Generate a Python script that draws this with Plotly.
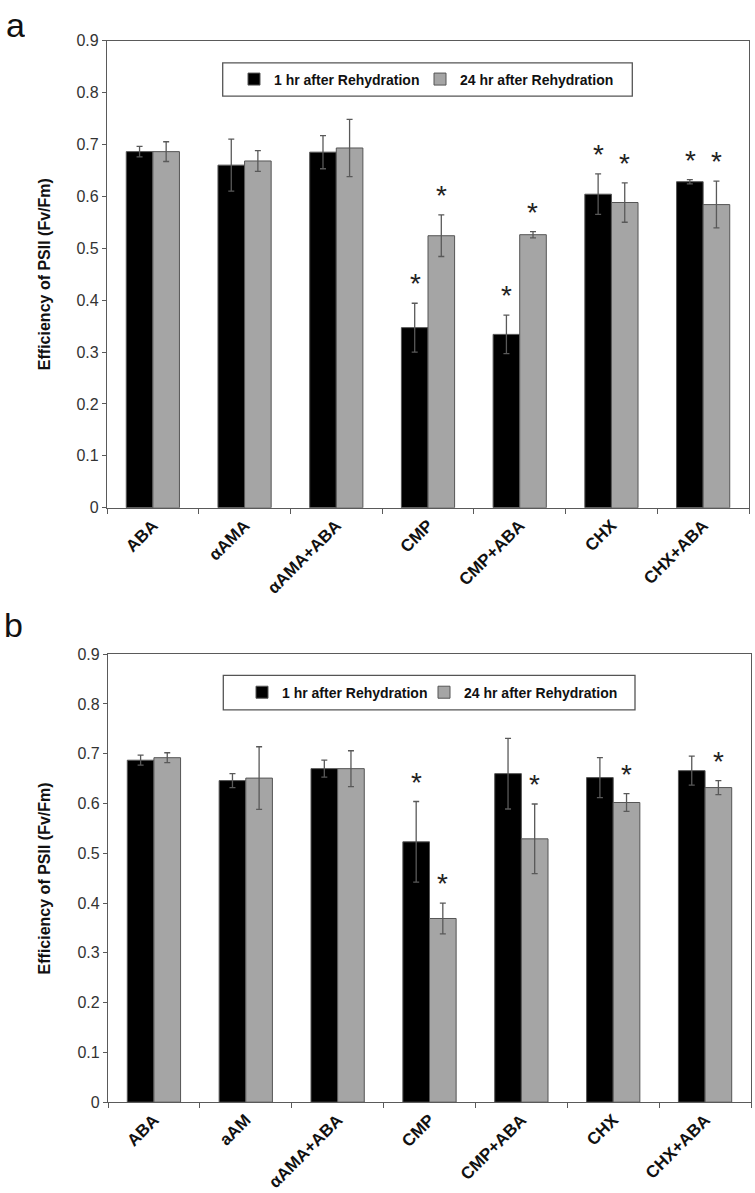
import plotly.graph_objects as go

# -----------------------------
# Data
# -----------------------------
CATS_A = ["ABA", "αAMA", "αAMA+ABA", "CMP", "CMP+ABA", "CHX", "CHX+ABA"]
A_1HR = [0.686, 0.660, 0.685, 0.347, 0.334, 0.604, 0.628]
A_1HR_ERR = [0.010, 0.050, 0.032, 0.047, 0.037, 0.039, 0.004]
A_24HR = [0.686, 0.668, 0.693, 0.524, 0.526, 0.588, 0.584]
A_24HR_ERR = [0.019, 0.020, 0.055, 0.040, 0.006, 0.038, 0.045]
A_SIG_1HR = [False, False, False, True, True, True, True]
A_SIG_24HR = [False, False, False, True, True, True, True]

CATS_B = ["ABA", "aAM", "αAMA+ABA", "CMP", "CMP+ABA", "CHX", "CHX+ABA"]
B_1HR = [0.687, 0.646, 0.670, 0.523, 0.660, 0.652, 0.666]
B_1HR_ERR = [0.010, 0.014, 0.017, 0.081, 0.071, 0.040, 0.029]
B_24HR = [0.692, 0.651, 0.670, 0.369, 0.529, 0.602, 0.632]
B_24HR_ERR = [0.010, 0.063, 0.036, 0.031, 0.070, 0.018, 0.014]
B_SIG_1HR = [False, False, False, True, False, False, False]
B_SIG_24HR = [False, False, False, True, True, True, True]

SERIES_NAMES = ["1 hr after Rehydration", "24 hr after Rehydration"]
Y_TITLE = "Efficiency of PSII (Fv/Fm)"

# -----------------------------
# Style
# -----------------------------
W, H = 755, 1193
FONT = "Arial, 'Liberation Sans', sans-serif"
BLACK_BAR = "#000000"
GREY_BAR = "#a5a5a5"
EDGE = "#555555"
AXIS = "#5a5a5a"
ERR = "#595959"


def px(x):
    return x / W


def py(y):
    return 1 - y / H


fig = go.Figure()

# one legend per series and panel, so each entry can sit where the original has it
panels = [
    dict(cats=CATS_A, v1=A_1HR, e1=A_1HR_ERR, v2=A_24HR, e2=A_24HR_ERR,
         s1=A_SIG_1HR, s2=A_SIG_24HR, xa="x", ya="y",
         legends=("legend", "legend2")),
    dict(cats=CATS_B, v1=B_1HR, e1=B_1HR_ERR, v2=B_24HR, e2=B_24HR_ERR,
         s1=B_SIG_1HR, s2=B_SIG_24HR, xa="x2", ya="y2",
         legends=("legend3", "legend4")),
]

annotations = []
for p in panels:
    for name, vals, errs, color, leg in [
        (SERIES_NAMES[0], p["v1"], p["e1"], BLACK_BAR, p["legends"][0]),
        (SERIES_NAMES[1], p["v2"], p["e2"], GREY_BAR, p["legends"][1]),
    ]:
        fig.add_trace(go.Bar(
            x=p["cats"], y=vals, name=name,
            marker=dict(color=color, line=dict(color=EDGE, width=1)),
            error_y=dict(type="data", array=errs, visible=True,
                         color=ERR, thickness=1.3, width=3),
            xaxis=p["xa"], yaxis=p["ya"], legend=leg,
        ))

    # significance stars
    for i, c in enumerate(p["cats"]):
        for sig, vals, errs, shift in [
            (p["s1"], p["v1"], p["e1"], -13),
            (p["s2"], p["v2"], p["e2"], 13),
        ]:
            if sig[i]:
                annotations.append(dict(
                    x=c, y=vals[i] + errs[i], xref=p["xa"], yref=p["ya"],
                    text="*", showarrow=False, xshift=shift, yshift=2,
                    yanchor="bottom",
                    font=dict(family=FONT, size=28, color="#222222"),
                ))

# panel letters
annotations.append(dict(x=px(4), y=py(1), xref="paper", yref="paper",
                        text="a", showarrow=False, xanchor="left", yanchor="top",
                        height=28, valign="middle",
                        font=dict(family=FONT, size=34, color="#111111")))
annotations.append(dict(x=px(2), y=py(605), xref="paper", yref="paper",
                        text="b", showarrow=False, xanchor="left", yanchor="top",
                        font=dict(family=FONT, size=34, color="#111111")))

# y-axis titles
for yc in [270, 883]:
    annotations.append(dict(x=px(44), y=py(yc), xref="paper", yref="paper",
                            text="<b>" + Y_TITLE + "</b>", showarrow=False,
                            textangle=-90, xanchor="center", yanchor="middle",
                            font=dict(family=FONT, size=16, color="#111111")))

# legend boxes
shapes = [
    dict(type="rect", xref="paper", yref="paper",
         x0=px(222.7), x1=px(632.3), y0=py(89.3), y1=py(55.7),
         line=dict(color=EDGE, width=1.3)),
    dict(type="rect", xref="paper", yref="paper",
         x0=px(223.3), x1=px(635), y0=py(712), y1=py(677),
         line=dict(color=EDGE, width=1.3)),
]

xaxis_common = dict(
    type="category", showline=True, linecolor=AXIS, linewidth=1.3,
    mirror=True, ticks="outside", tickson="boundaries", ticklen=5,
    tickcolor=AXIS, tickangle=-45, showgrid=False, zeroline=False,
    tickfont=dict(family=FONT, size=17, color="#111111"),
)
yaxis_common = dict(
    range=[0, 0.9], dtick=0.1, showline=True, linecolor=AXIS, linewidth=1.3,
    mirror=True, ticks="outside", ticklen=4, tickcolor=AXIS,
    showgrid=False, zeroline=False,
    tickfont=dict(family=FONT, size=16, color="#333333"),
)

legend_common = dict(
    orientation="h", bgcolor="rgba(0,0,0,0)", borderwidth=0,
    font=dict(family=FONT, size=14, color="#111111", weight="bold"),
    xanchor="left", yanchor="middle",
)

fig.update_layout(
    width=W, height=H,
    margin=dict(l=0, r=0, t=0, b=0),
    plot_bgcolor="white", paper_bgcolor="white",
    barmode="group", bargap=0.42, bargroupgap=0,
    showlegend=True,
    xaxis=dict(domain=[px(107), px(749)], anchor="y",
               tickvals=CATS_A, ticktext=["<b>" + c + "</b>" for c in CATS_A],
               **xaxis_common),
    yaxis=dict(domain=[py(507), py(33)], anchor="x", **yaxis_common),
    xaxis2=dict(domain=[px(108), px(751)], anchor="y2",
                tickvals=CATS_B, ticktext=["<b>" + c + "</b>" for c in CATS_B],
                **xaxis_common),
    yaxis2=dict(domain=[py(1110), py(655.5)], anchor="x2", **yaxis_common),
    legend=dict(x=px(234), y=py(72.5), **legend_common),
    legend2=dict(x=px(420), y=py(72.5), **legend_common),
    legend3=dict(x=px(242), y=py(694.5), **legend_common),
    legend4=dict(x=px(424), y=py(694.5), **legend_common),
    annotations=annotations,
    shapes=shapes,
)

fig.write_html(
    "out.html",
    config={"displayModeBar": False},
    post_script="document.body.style.margin='0';"
                "document.body.style.overflow='hidden';",
)
